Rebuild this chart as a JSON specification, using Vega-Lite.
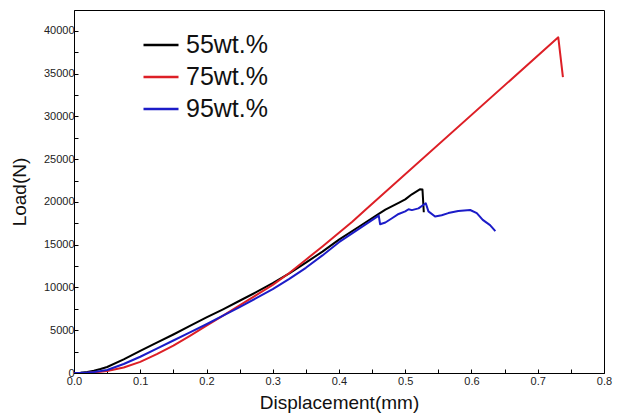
{
  "$schema": "https://vega.github.io/schema/vega-lite/v6.json",
  "width": 530,
  "height": 363,
  "autosize": {"type": "none"},
  "padding": {"left": 74, "top": 10, "right": 13, "bottom": 41},
  "background": "white",
  "config": {
    "font": "Liberation Sans",
    "view": {"stroke": "black", "strokeWidth": 1},
    "axis": {"domainColor": "black", "tickColor": "black", "labelColor": "#222", "titleColor": "#111", "grid": false, "labelFont": "Liberation Sans", "titleFont": "Liberation Sans", "titleFontWeight": "normal"}
  },
  "data": {
    "values": [
      {"s": "55wt.%", "x": 0, "y": 0},
      {"s": "55wt.%", "x": 0.01, "y": 30},
      {"s": "55wt.%", "x": 0.02, "y": 120},
      {"s": "55wt.%", "x": 0.03, "y": 260},
      {"s": "55wt.%", "x": 0.04, "y": 460},
      {"s": "55wt.%", "x": 0.05, "y": 700},
      {"s": "55wt.%", "x": 0.075, "y": 1600},
      {"s": "55wt.%", "x": 0.1, "y": 2600},
      {"s": "55wt.%", "x": 0.125, "y": 3550},
      {"s": "55wt.%", "x": 0.15, "y": 4500},
      {"s": "55wt.%", "x": 0.175, "y": 5500},
      {"s": "55wt.%", "x": 0.2, "y": 6500},
      {"s": "55wt.%", "x": 0.225, "y": 7450},
      {"s": "55wt.%", "x": 0.25, "y": 8450},
      {"s": "55wt.%", "x": 0.275, "y": 9450},
      {"s": "55wt.%", "x": 0.3, "y": 10500},
      {"s": "55wt.%", "x": 0.325, "y": 11650},
      {"s": "55wt.%", "x": 0.35, "y": 12900},
      {"s": "55wt.%", "x": 0.375, "y": 14200},
      {"s": "55wt.%", "x": 0.4, "y": 15600},
      {"s": "55wt.%", "x": 0.43, "y": 17100},
      {"s": "55wt.%", "x": 0.46, "y": 18600},
      {"s": "55wt.%", "x": 0.47, "y": 19100},
      {"s": "55wt.%", "x": 0.49, "y": 19900},
      {"s": "55wt.%", "x": 0.5, "y": 20300},
      {"s": "55wt.%", "x": 0.51, "y": 20900},
      {"s": "55wt.%", "x": 0.522, "y": 21480},
      {"s": "55wt.%", "x": 0.526, "y": 21450},
      {"s": "55wt.%", "x": 0.528, "y": 18800},
      {"s": "75wt.%", "x": 0, "y": 0},
      {"s": "75wt.%", "x": 0.01, "y": 10},
      {"s": "75wt.%", "x": 0.02, "y": 40},
      {"s": "75wt.%", "x": 0.03, "y": 90},
      {"s": "75wt.%", "x": 0.04, "y": 150},
      {"s": "75wt.%", "x": 0.05, "y": 230},
      {"s": "75wt.%", "x": 0.075, "y": 650},
      {"s": "75wt.%", "x": 0.1, "y": 1300},
      {"s": "75wt.%", "x": 0.125, "y": 2200},
      {"s": "75wt.%", "x": 0.15, "y": 3200},
      {"s": "75wt.%", "x": 0.175, "y": 4350},
      {"s": "75wt.%", "x": 0.2, "y": 5550},
      {"s": "75wt.%", "x": 0.225, "y": 6700},
      {"s": "75wt.%", "x": 0.25, "y": 7900},
      {"s": "75wt.%", "x": 0.275, "y": 9100},
      {"s": "75wt.%", "x": 0.3, "y": 10300},
      {"s": "75wt.%", "x": 0.325, "y": 11700},
      {"s": "75wt.%", "x": 0.35, "y": 13250},
      {"s": "75wt.%", "x": 0.375, "y": 14800},
      {"s": "75wt.%", "x": 0.4, "y": 16400},
      {"s": "75wt.%", "x": 0.42, "y": 17700},
      {"s": "75wt.%", "x": 0.44, "y": 19100},
      {"s": "75wt.%", "x": 0.731, "y": 39250},
      {"s": "75wt.%", "x": 0.738, "y": 34600},
      {"s": "95wt.%", "x": 0, "y": 0},
      {"s": "95wt.%", "x": 0.01, "y": 15},
      {"s": "95wt.%", "x": 0.02, "y": 60},
      {"s": "95wt.%", "x": 0.03, "y": 130},
      {"s": "95wt.%", "x": 0.04, "y": 230},
      {"s": "95wt.%", "x": 0.05, "y": 350},
      {"s": "95wt.%", "x": 0.075, "y": 1050},
      {"s": "95wt.%", "x": 0.1, "y": 1900},
      {"s": "95wt.%", "x": 0.125, "y": 2850},
      {"s": "95wt.%", "x": 0.15, "y": 3800},
      {"s": "95wt.%", "x": 0.175, "y": 4750},
      {"s": "95wt.%", "x": 0.2, "y": 5700},
      {"s": "95wt.%", "x": 0.225, "y": 6700},
      {"s": "95wt.%", "x": 0.25, "y": 7700},
      {"s": "95wt.%", "x": 0.275, "y": 8750},
      {"s": "95wt.%", "x": 0.3, "y": 9800},
      {"s": "95wt.%", "x": 0.325, "y": 11000},
      {"s": "95wt.%", "x": 0.35, "y": 12300},
      {"s": "95wt.%", "x": 0.375, "y": 13750},
      {"s": "95wt.%", "x": 0.4, "y": 15300},
      {"s": "95wt.%", "x": 0.43, "y": 16850},
      {"s": "95wt.%", "x": 0.46, "y": 18400},
      {"s": "95wt.%", "x": 0.462, "y": 17400},
      {"s": "95wt.%", "x": 0.47, "y": 17600},
      {"s": "95wt.%", "x": 0.48, "y": 18100},
      {"s": "95wt.%", "x": 0.49, "y": 18600},
      {"s": "95wt.%", "x": 0.5, "y": 18900},
      {"s": "95wt.%", "x": 0.505, "y": 19150},
      {"s": "95wt.%", "x": 0.51, "y": 19050},
      {"s": "95wt.%", "x": 0.52, "y": 19250},
      {"s": "95wt.%", "x": 0.531, "y": 19850},
      {"s": "95wt.%", "x": 0.535, "y": 18900},
      {"s": "95wt.%", "x": 0.545, "y": 18300},
      {"s": "95wt.%", "x": 0.555, "y": 18450},
      {"s": "95wt.%", "x": 0.565, "y": 18700},
      {"s": "95wt.%", "x": 0.58, "y": 18950},
      {"s": "95wt.%", "x": 0.598, "y": 19060},
      {"s": "95wt.%", "x": 0.608, "y": 18700},
      {"s": "95wt.%", "x": 0.617, "y": 17900},
      {"s": "95wt.%", "x": 0.628, "y": 17300},
      {"s": "95wt.%", "x": 0.636, "y": 16600}
    ]
  },
  "mark": {"type": "line", "strokeWidth": 2, "clip": true, "strokeJoin": "round"},
  "encoding": {
    "x": {
      "field": "x", "type": "quantitative",
      "scale": {"domain": [0, 0.8], "nice": false, "zero": false},
      "axis": {
        "title": "Displacement(mm)",
        "titleFontSize": 19,
        "titlePadding": 7,
        "labelFontSize": 11,
        "labelPadding": 6,
        "tickSize": -4,
        "values": [0, 0.05, 0.1, 0.15, 0.2, 0.25, 0.3, 0.35, 0.4, 0.45, 0.5, 0.55, 0.6, 0.65, 0.7, 0.75, 0.8],
        "labelExpr": "round(datum.value*100) % 10 == 0 ? format(datum.value, '.1f') : ''",
        "labelFlush": false
      }
    },
    "y": {
      "field": "y", "type": "quantitative",
      "scale": {"domain": [0, 42450], "nice": false},
      "axis": {
        "title": "Load(N)",
        "titleFontSize": 19,
        "titlePadding": 14,
        "labelFontSize": 11,
        "labelPadding": 4,
        "tickSize": -4,
        "values": [0, 2500, 5000, 7500, 10000, 12500, 15000, 17500, 20000, 22500, 25000, 27500, 30000, 32500, 35000, 37500, 40000],
        "labelExpr": "datum.value % 5000 == 0 ? format(datum.value, 'd') : ''"
      }
    },
    "color": {
      "field": "s", "type": "nominal",
      "scale": {"domain": ["55wt.%", "75wt.%", "95wt.%"], "range": ["#000000", "#dd1f26", "#1c1cc8"]},
      "legend": {
        "title": null,
        "orient": "none",
        "legendX": 68,
        "legendY": 16,
        "padding": 0,
        "symbolType": "stroke",
        "symbolSize": 1225,
        "symbolStrokeWidth": 2.5,
        "labelFontSize": 25,
        "labelColor": "#111",
        "labelOffset": 6,
        "rowPadding": -8.5
      }
    }
  }
}
